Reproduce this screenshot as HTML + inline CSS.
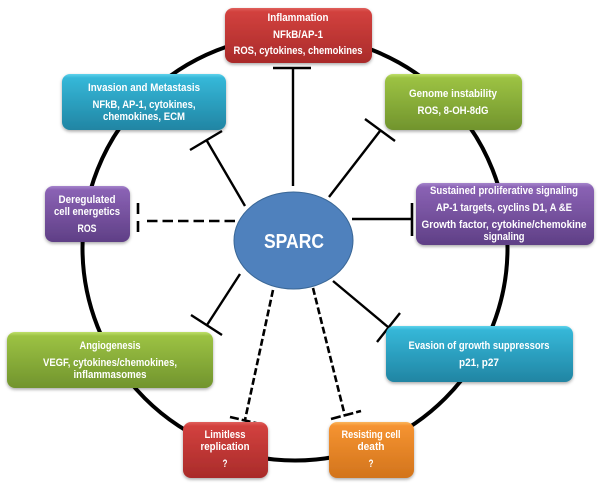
<!DOCTYPE html>
<html>
<head>
<meta charset="utf-8">
<style>
html,body{margin:0;padding:0;background:#fff;width:600px;height:485px;overflow:hidden}
svg{display:block}
text{font-family:"Liberation Sans",sans-serif;font-weight:bold;fill:#fff;text-anchor:middle;font-size:11px}
</style>
</head>
<body>
<svg width="600" height="485" viewBox="0 0 600 485" xmlns="http://www.w3.org/2000/svg">
<defs>
<linearGradient id="r" x1="0" y1="0" x2="0" y2="1"><stop offset="0" stop-color="#e0605c"/><stop offset=".07" stop-color="#d2413e"/><stop offset="1" stop-color="#a92b2a"/></linearGradient>
<linearGradient id="b" x1="0" y1="0" x2="0" y2="1"><stop offset="0" stop-color="#5fd3ec"/><stop offset=".07" stop-color="#35b7d8"/><stop offset="1" stop-color="#2185a3"/></linearGradient>
<linearGradient id="g" x1="0" y1="0" x2="0" y2="1"><stop offset="0" stop-color="#bfe06a"/><stop offset=".07" stop-color="#9cc243"/><stop offset="1" stop-color="#71942d"/></linearGradient>
<linearGradient id="p" x1="0" y1="0" x2="0" y2="1"><stop offset="0" stop-color="#a585cc"/><stop offset=".07" stop-color="#8a62b4"/><stop offset="1" stop-color="#5f3f86"/></linearGradient>
<linearGradient id="o" x1="0" y1="0" x2="0" y2="1"><stop offset="0" stop-color="#fbb55c"/><stop offset=".07" stop-color="#f59331"/><stop offset="1" stop-color="#d2741c"/></linearGradient>
<filter id="s" x="-10%" y="-15%" width="120%" height="135%"><feDropShadow dx="0" dy="1.5" stdDeviation="1.5" flood-color="#000" flood-opacity=".35"/></filter>
<filter id="t" x="-5%" y="-5%" width="110%" height="110%"><feGaussianBlur stdDeviation=".3"/></filter>
</defs>

<circle cx="295" cy="248" r="212.5" fill="none" stroke="#000" stroke-width="4"/>

<g stroke="#000" stroke-width="2.4" fill="none">
<path d="M293 68V186M273 68H311"/>
<path d="M245 206L207 141M190 150L222 131"/>
<path d="M329 197L380 131M365 119L395 141"/>
<path d="M352 219H412"/>
<path d="M412 203V236" stroke-width="2.6"/>
<path d="M240 274L207 325M191 315L222 335"/>
<path d="M333 281L388 327M377 342L400 313"/>
<path d="M147 221H235" stroke-dasharray="10.5 5" stroke-width="2.6"/>
<path d="M138 203V232" stroke-dasharray="11 7" stroke-width="2.6"/>
<path d="M273 290L245 420" stroke-dasharray="7 3" stroke-width="2.6"/>
<path d="M230 417L260 424" stroke-dasharray="9 3" stroke-width="2.6"/>
<path d="M313 288L345 416" stroke-dasharray="7 3" stroke-width="2.6"/>
<path d="M331 419L361 411" stroke-dasharray="10 3" stroke-width="2.6"/>
</g>

<g filter="url(#s)">
<rect x="225" y="8" width="147" height="55" rx="8" fill="url(#r)"/>
<rect x="62" y="74" width="164" height="56" rx="8" fill="url(#b)"/>
<rect x="385" y="74" width="137" height="56" rx="8" fill="url(#g)"/>
<rect x="45" y="186" width="85" height="56" rx="8" fill="url(#p)"/>
<rect x="416" y="183" width="178" height="62" rx="8" fill="url(#p)"/>
<rect x="7" y="332" width="206" height="56" rx="8" fill="url(#g)"/>
<rect x="386" y="326" width="187" height="56" rx="8" fill="url(#b)"/>
<rect x="183" y="422" width="85" height="56" rx="8" fill="url(#r)"/>
<rect x="329" y="422" width="85" height="56" rx="8" fill="url(#o)"/>
</g>

<ellipse cx="293.5" cy="240.5" rx="59.5" ry="48.5" fill="#4f81bd" stroke="#3a6796" stroke-width="1"/>

<g filter="url(#t)">
<text x="294" y="248" textLength="60" lengthAdjust="spacingAndGlyphs" style="font-size:20px">SPARC</text>

<text x="298" y="21" textLength="61" lengthAdjust="spacingAndGlyphs">Inflammation</text>
<text x="298" y="38" textLength="50" lengthAdjust="spacingAndGlyphs">NFkB/AP-1</text>
<text x="298" y="54" textLength="129" lengthAdjust="spacingAndGlyphs">ROS, cytokines, chemokines</text>

<text x="144" y="91" textLength="112" lengthAdjust="spacingAndGlyphs">Invasion and Metastasis</text>
<text x="144" y="108" textLength="103" lengthAdjust="spacingAndGlyphs">NFkB, AP-1, cytokines,</text>
<text x="144" y="120" textLength="82" lengthAdjust="spacingAndGlyphs">chemokines, ECM</text>

<text x="453" y="97" textLength="88" lengthAdjust="spacingAndGlyphs">Genome instability</text>
<text x="453" y="114" textLength="71" lengthAdjust="spacingAndGlyphs">ROS, 8-OH-8dG</text>

<text x="87" y="203" textLength="57" lengthAdjust="spacingAndGlyphs">Deregulated</text>
<text x="87" y="215" textLength="66" lengthAdjust="spacingAndGlyphs">cell energetics</text>
<text x="87" y="232" textLength="19" lengthAdjust="spacingAndGlyphs">ROS</text>

<text x="504" y="194" textLength="148" lengthAdjust="spacingAndGlyphs">Sustained proliferative signaling</text>
<text x="504" y="211" textLength="136" lengthAdjust="spacingAndGlyphs">AP-1 targets, cyclins D1, A &amp;E</text>
<text x="504" y="228" textLength="165" lengthAdjust="spacingAndGlyphs">Growth factor, cytokine/chemokine</text>
<text x="504" y="240" textLength="41" lengthAdjust="spacingAndGlyphs">signaling</text>

<text x="110" y="349" textLength="61" lengthAdjust="spacingAndGlyphs">Angiogenesis</text>
<text x="110" y="366" textLength="134" lengthAdjust="spacingAndGlyphs">VEGF, cytokines/chemokines,</text>
<text x="110" y="378" textLength="73" lengthAdjust="spacingAndGlyphs">inflammasomes</text>

<text x="479" y="349" textLength="141" lengthAdjust="spacingAndGlyphs">Evasion of growth suppressors</text>
<text x="479" y="366" textLength="40" lengthAdjust="spacingAndGlyphs">p21, p27</text>

<text x="225" y="438" textLength="41" lengthAdjust="spacingAndGlyphs">Limitless</text>
<text x="225" y="450" textLength="49" lengthAdjust="spacingAndGlyphs">replication</text>
<text x="225" y="467" textLength="5" lengthAdjust="spacingAndGlyphs">?</text>

<text x="371" y="438" textLength="59" lengthAdjust="spacingAndGlyphs">Resisting cell</text>
<text x="371" y="450" textLength="27" lengthAdjust="spacingAndGlyphs">death</text>
<text x="371" y="467" textLength="5" lengthAdjust="spacingAndGlyphs">?</text>
</g>
</svg>
</body>
</html>
